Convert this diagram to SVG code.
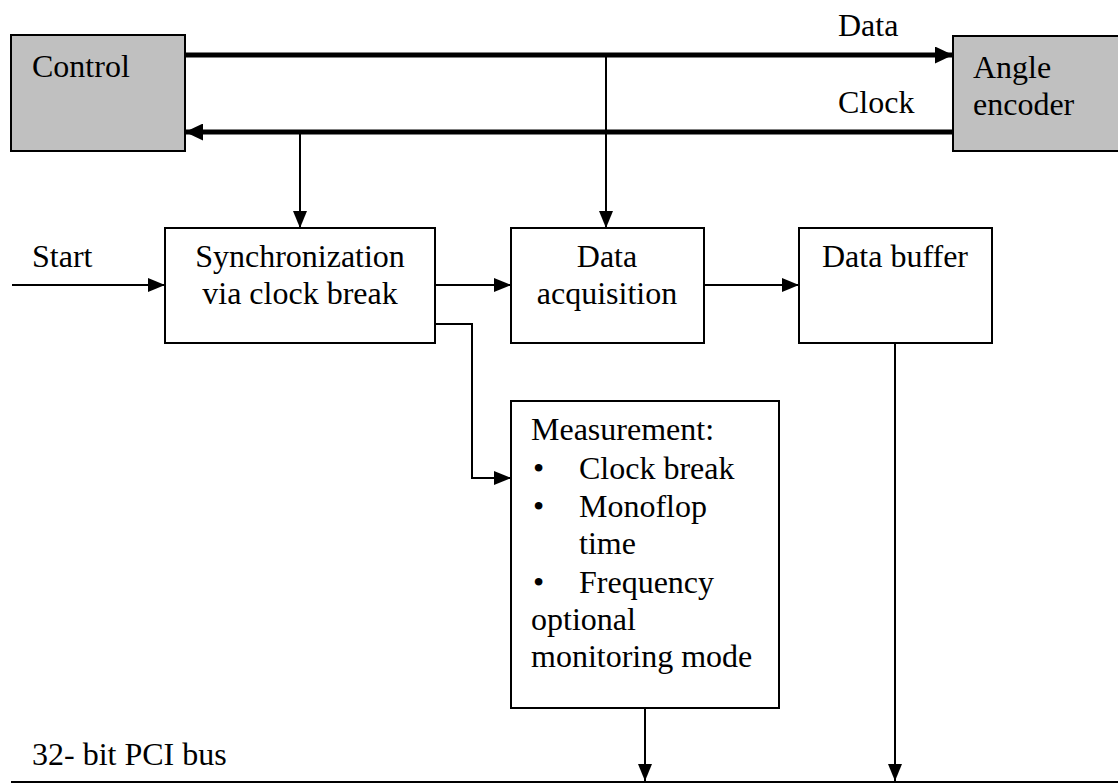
<svg xmlns="http://www.w3.org/2000/svg" width="1118" height="783" viewBox="0 0 1118 783">
<style>
.t{font-family:'Liberation Serif','Times New Roman',serif;font-size:32px;fill:#000}
.box{fill:#fff;stroke:#000;stroke-width:2}
.grey{fill:#c0c0c0;stroke:#000;stroke-width:2}
.thin{fill:none;stroke:#000;stroke-width:2}
.thick{fill:none;stroke:#000;stroke-width:5}
.mid{text-anchor:middle}
</style>
<defs>
<marker id="a" viewBox="0 0 17 14" refX="17" refY="7" markerWidth="17" markerHeight="14" markerUnits="userSpaceOnUse" orient="auto"><path d="M0,0L17,7L0,14z" fill="#000"/></marker>
<marker id="b" viewBox="0 0 18 17" refX="18" refY="8.5" markerWidth="18" markerHeight="17" markerUnits="userSpaceOnUse" orient="auto"><path d="M0,0L18,8.5L0,17z" fill="#000"/></marker>
</defs>
<g id="connectors">
<line class="thick" x1="185" y1="55" x2="953" y2="55" marker-end="url(#b)"/>
<line class="thick" x1="953" y1="132" x2="185" y2="132" marker-end="url(#b)"/>
<line class="thin" x1="300" y1="132" x2="300" y2="228" marker-end="url(#a)"/>
<line class="thin" x1="606" y1="55" x2="606" y2="228" marker-end="url(#a)"/>
<line class="thin" x1="12" y1="285" x2="165" y2="285" marker-end="url(#a)"/>
<line class="thin" x1="435" y1="285" x2="511" y2="285" marker-end="url(#a)"/>
<line class="thin" x1="704" y1="285" x2="799" y2="285" marker-end="url(#a)"/>
<polyline class="thin" points="435,324 472,324 472,478 511,478" marker-end="url(#a)"/>
<line class="thin" x1="645" y1="708" x2="645" y2="781" marker-end="url(#a)"/>
<line class="thin" x1="895" y1="343" x2="895" y2="781" marker-end="url(#a)"/>
<line class="thin" x1="11" y1="782" x2="1118" y2="782"/>
<text class="t" x="838" y="36">Data</text>
<text class="t" x="838" y="113">Clock</text>
<text class="t" x="32" y="267">Start</text>
<text class="t" x="32" y="765">32- bit PCI bus</text>
</g>
<g id="control">
<rect class="grey" x="11" y="35" width="174" height="116"/>
<text class="t" x="32" y="77">Control</text>
</g>
<g id="angle-encoder">
<rect class="grey" x="953" y="36" width="170" height="115"/>
<text class="t" x="973" y="78">Angle</text>
<text class="t" x="973" y="115">encoder</text>
</g>
<g id="sync">
<rect class="box" x="165" y="228" width="270" height="115"/>
<text class="t mid" x="300" y="267">Synchronization</text>
<text class="t mid" x="300" y="304">via clock break</text>
</g>
<g id="acquisition">
<rect class="box" x="511" y="228" width="193" height="115"/>
<text class="t mid" x="607" y="267">Data</text>
<text class="t mid" x="607" y="304">acquisition</text>
</g>
<g id="buffer">
<rect class="box" x="799" y="228" width="193" height="115"/>
<text class="t mid" x="895" y="267">Data buffer</text>
</g>
<g id="measurement">
<rect class="box" x="511" y="401" width="268" height="307"/>
<text class="t" x="531" y="440">Measurement:</text>
<text class="t" x="533" y="479">•</text>
<text class="t" x="579" y="479">Clock break</text>
<text class="t" x="533" y="517">•</text>
<text class="t" x="579" y="517">Monoflop</text>
<text class="t" x="579" y="554">time</text>
<text class="t" x="533" y="593">•</text>
<text class="t" x="579" y="593">Frequency</text>
<text class="t" x="531" y="630">optional</text>
<text class="t" x="531" y="667">monitoring mode</text>
</g>
</svg>
